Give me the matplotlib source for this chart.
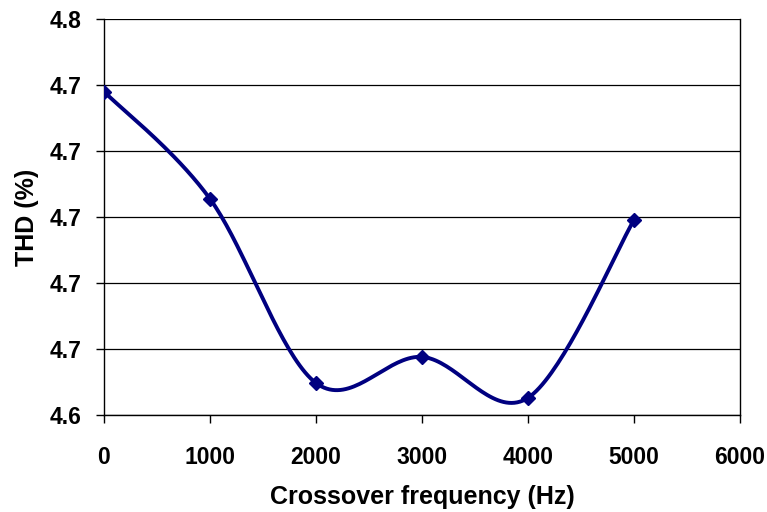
import numpy as np
from matplotlib import pyplot as plt

# Daten
crossover_hz = [0, 1000, 2000, 3000, 4000, 5000]
thd_percent = [4.7380, 4.7055, 4.6497, 4.6576, 4.6452, 4.6991]

y_ticks = [4.64, 4.66, 4.68, 4.70, 4.72, 4.74, 4.76]
y_tick_labels = ["4.6", "4.7", "4.7", "4.7", "4.7", "4.7", "4.8"]
x_ticks = [0, 1000, 2000, 3000, 4000, 5000, 6000]


def smooth_line(xs, ys, steps=40):
    # Excel-artige Glaettung (Catmull-Rom als Bezier)
    pts = np.column_stack([xs, ys]).astype(float)
    padded = np.vstack([pts[0], pts, pts[-1]])
    out = []
    t = np.linspace(0, 1, steps)[:, None]
    for i in range(1, len(padded) - 2):
        p0, p1, p2, p3 = padded[i - 1], padded[i], padded[i + 1], padded[i + 2]
        c1 = p1 + (p2 - p0) / 6
        c2 = p2 - (p3 - p1) / 6
        seg = ((1 - t) ** 3) * p1 + 3 * ((1 - t) ** 2) * t * c1 + 3 * (1 - t) * t ** 2 * c2 + t ** 3 * p2
        out.append(seg if i == 1 else seg[1:])
    curve = np.vstack(out)
    return curve[:, 0], curve[:, 1]


plt.rcParams['font.family'] = ['Liberation Sans', 'DejaVu Sans']
plt.rcParams['font.weight'] = 'bold'

fig = plt.figure(figsize=(7.67, 5.12), dpi=100)
ax = fig.add_axes([104 / 767, 1 - 415 / 512, (740 - 104) / 767, (415 - 19) / 512])

navy = "#000080"
sx, sy = smooth_line(crossover_hz, thd_percent)
ax.plot(sx, sy, color=navy, linewidth=2.8, zorder=3, solid_capstyle='round')
ax.plot(crossover_hz, thd_percent, linestyle='none', marker='D', markersize=7.5,
        color=navy, zorder=4)

ax.set_xlim(0, 6000)
ax.set_ylim(4.64, 4.76)
ax.set_xticks(x_ticks)
ax.set_xticklabels([str(v) for v in x_ticks])
ax.set_yticks(y_ticks)
ax.set_yticklabels(y_tick_labels)

ax.grid(True, axis='y', color='black', linewidth=0.9)
ax.set_axisbelow(True)
for side in ['left', 'bottom', 'right']:
    ax.spines[side].set_color('black')
    ax.spines[side].set_linewidth(1.0)
ax.spines['top'].set_visible(False)

ax.tick_params(axis='both', direction='out', length=6, width=1.0, labelsize=16.5, colors='black')
ax.tick_params(axis='x', pad=16)
ax.tick_params(axis='y', pad=10)

ax.set_xlabel("Crossover frequency (Hz)", fontsize=18, fontweight='bold', labelpad=12)
ax.set_ylabel("THD (%)", fontsize=18, fontweight='bold', labelpad=8)

fig.savefig("out.png", dpi=100)
plt.close(fig)
